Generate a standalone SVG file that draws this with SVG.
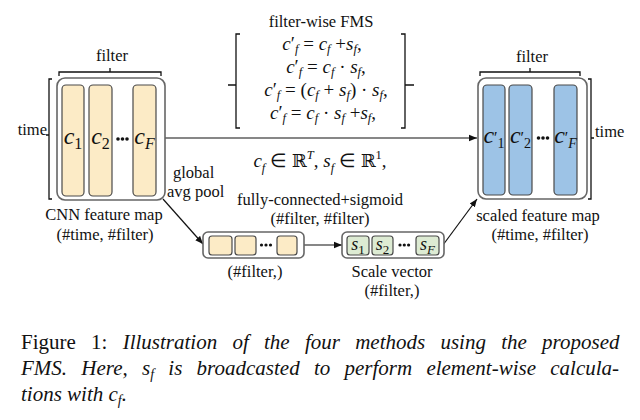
<svg xmlns="http://www.w3.org/2000/svg" width="640" height="420" viewBox="0 0 640 420" font-family="'Liberation Serif', 'Times New Roman', serif">
<style>
.lbl{font-size:16.5px;fill:#111}
.m{font-style:italic;font-size:19px;fill:#111}
.up{font-style:normal}
.sb{font-size:12.5px}
.col{font-style:italic;font-size:24px;fill:#111}
.sq{font-style:italic;font-size:18px;fill:#111}
.outer{fill:#fff;stroke:#666;stroke-width:1.6}
.cream{fill:#FCEBC6;stroke:#4a4a4a;stroke-width:1.2}
.blue{fill:#9DC3E6;stroke:#4a4a4a;stroke-width:1.2}
.green{fill:#DDEBD3;stroke:#4a4a4a;stroke-width:1.2}
.br{fill:none;stroke:#111;stroke-width:1.3}
.ln{fill:none;stroke:#111;stroke-width:1.2}
.cap{font-size:21px;fill:#111}
.dot{fill:#111}
</style>
<defs>
<marker id="ah" markerUnits="userSpaceOnUse" markerWidth="9" markerHeight="8" refX="8" refY="4" orient="auto">
<path d="M0,0.8 L8,4 L0,7.2 z" fill="#111"/>
</marker>
</defs>

<g id="connectors">
<line class="ln" x1="165" y1="138" x2="477" y2="138" marker-end="url(#ah)"/>
<line class="ln" x1="163" y1="199" x2="203" y2="244" marker-end="url(#ah)"/>
<line class="ln" x1="304" y1="245" x2="342" y2="245" marker-end="url(#ah)"/>
<line class="ln" x1="443" y1="245" x2="477" y2="199" marker-end="url(#ah)"/>
</g>

<g id="cnn-feature-map">
<rect class="outer" x="57" y="78" width="108" height="122" rx="8"/>
<rect class="cream" x="62" y="85" width="22" height="111" rx="4"/>
<rect class="cream" x="89" y="85" width="23" height="111" rx="4"/>
<rect class="cream" x="133" y="85" width="23" height="111" rx="4"/>
<circle class="dot" cx="118" cy="139" r="1.8"/><circle class="dot" cx="122.5" cy="139" r="1.8"/><circle class="dot" cx="127" cy="139" r="1.8"/>
<text class="col" x="73" y="144" text-anchor="middle">c<tspan class="up" font-size="16" dy="5">1</tspan></text>
<text class="col" x="100.5" y="144" text-anchor="middle">c<tspan class="up" font-size="16" dy="5">2</tspan></text>
<text class="col" x="144.5" y="144" text-anchor="middle">c<tspan font-size="16" dy="5">F</tspan></text>
<path class="br" d="M59,76 V72 H161 V76 M110,72 V68"/>
<text class="lbl" x="112" y="61" text-anchor="middle">filter</text>
<path class="br" d="M52,79 H49 V199 H52 M49,135 H46"/>
<text class="lbl" x="47" y="135" text-anchor="end">time</text>
<text class="lbl" x="104" y="220" text-anchor="middle">CNN feature map</text>
<text class="lbl" x="105" y="240" text-anchor="middle">(#time, #filter)</text>
</g>

<g id="fms-formulas">
<text class="lbl" x="321" y="27" text-anchor="middle">filter-wise FMS</text>
<path class="br" d="M240,34 H236 V128 H240 M236,85 H228"/>
<path class="br" d="M401,34 H405 V128 H401 M405,85 H414"/>
<text class="m" x="322" y="50" text-anchor="middle">c<tspan class="up">′</tspan><tspan class="sb" dy="3">f</tspan><tspan class="up" dy="-3"> = </tspan>c<tspan class="sb" dy="3">f</tspan><tspan class="up" dy="-3"> +</tspan>s<tspan class="sb" dy="3">f</tspan><tspan class="up" dy="-3">,</tspan></text>
<text class="m" x="326" y="73" text-anchor="middle">c<tspan class="up">′</tspan><tspan class="sb" dy="3">f</tspan><tspan class="up" dy="-3"> = </tspan>c<tspan class="sb" dy="3">f</tspan><tspan class="up" dy="-3"> · </tspan>s<tspan class="sb" dy="3">f</tspan><tspan class="up" dy="-3">,</tspan></text>
<text class="m" x="326" y="96" text-anchor="middle">c<tspan class="up">′</tspan><tspan class="sb" dy="3">f</tspan><tspan class="up" dy="-3"> = (</tspan>c<tspan class="sb" dy="3">f</tspan><tspan class="up" dy="-3"> + </tspan>s<tspan class="sb" dy="3">f</tspan><tspan class="up" dy="-3">) · </tspan>s<tspan class="sb" dy="3">f</tspan><tspan class="up" dy="-3">,</tspan></text>
<text class="m" x="323" y="119" text-anchor="middle">c<tspan class="up">′</tspan><tspan class="sb" dy="3">f</tspan><tspan class="up" dy="-3"> = </tspan>c<tspan class="sb" dy="3">f</tspan><tspan class="up" dy="-3"> · </tspan>s<tspan class="sb" dy="3">f</tspan><tspan class="up" dy="-3"> +</tspan>s<tspan class="sb" dy="3">f</tspan><tspan class="up" dy="-3">,</tspan></text>
<text class="m" x="320" y="167" text-anchor="middle" font-size="20">c<tspan class="sb" font-size="14" dy="5">f</tspan><tspan class="up" dy="-5"> ∈ </tspan><tspan class="up" font-family="'DejaVu Serif', serif" font-size="18">ℝ</tspan><tspan class="sb" font-size="14" dy="-8">T</tspan><tspan class="up" dy="8">, </tspan>s<tspan class="sb" font-size="14" dy="5">f</tspan><tspan class="up" dy="-5"> ∈ </tspan><tspan class="up" font-family="'DejaVu Serif', serif" font-size="18">ℝ</tspan><tspan class="sb up" font-size="14" dy="-8">1</tspan><tspan class="up" dy="8">,</tspan></text>
</g>

<g id="global-avg-pool">
<text class="lbl" x="173" y="178">global</text>
<text class="lbl" x="167" y="197">avg pool</text>
</g>

<g id="pooled-vector">
<rect class="outer" x="203" y="232" width="101" height="26" rx="5"/>
<rect class="cream" x="209" y="236" width="23" height="19" rx="3"/>
<rect class="cream" x="235" y="236" width="21" height="19" rx="3"/>
<rect class="cream" x="277" y="236" width="20" height="19" rx="3"/>
<circle class="dot" cx="261.5" cy="245" r="1.6"/><circle class="dot" cx="266" cy="245" r="1.6"/><circle class="dot" cx="270.5" cy="245" r="1.6"/>
<text class="lbl" x="255" y="277" text-anchor="middle">(#filter,)</text>
</g>

<g id="fc-sigmoid">
<text class="lbl" x="320" y="205" text-anchor="middle">fully-connected+sigmoid</text>
<text class="lbl" x="320" y="224" text-anchor="middle">(#filter, #filter)</text>
</g>

<g id="scale-vector">
<rect class="outer" x="342" y="232" width="102" height="26" rx="5"/>
<rect class="green" x="347" y="236" width="22" height="19" rx="3"/>
<rect class="green" x="372" y="236" width="21" height="19" rx="3"/>
<rect class="green" x="416" y="236" width="23" height="19" rx="3"/>
<circle class="dot" cx="400" cy="245" r="1.6"/><circle class="dot" cx="404.3" cy="245" r="1.6"/><circle class="dot" cx="408.6" cy="245" r="1.6"/>
<text class="sq" x="358" y="250" text-anchor="middle">s<tspan class="up" font-size="13" dy="4">1</tspan></text>
<text class="sq" x="382.5" y="250" text-anchor="middle">s<tspan class="up" font-size="13" dy="4">2</tspan></text>
<text class="sq" x="427.5" y="250" text-anchor="middle">s<tspan font-size="13" dy="4">F</tspan></text>
<text class="lbl" x="392" y="277" text-anchor="middle">Scale vector</text>
<text class="lbl" x="392" y="296" text-anchor="middle">(#filter,)</text>
</g>

<g id="scaled-feature-map">
<rect class="outer" x="478" y="78" width="109" height="121" rx="8"/>
<rect class="blue" x="483" y="85" width="22" height="110" rx="4"/>
<rect class="blue" x="509" y="85" width="23" height="110" rx="4"/>
<rect class="blue" x="554" y="85" width="23" height="110" rx="4"/>
<circle class="dot" cx="538.5" cy="138" r="1.8"/><circle class="dot" cx="543" cy="138" r="1.8"/><circle class="dot" cx="547.5" cy="138" r="1.8"/>
<text class="col" x="494" y="143" text-anchor="middle" font-size="23">c<tspan class="up" font-size="16">′</tspan><tspan class="up" font-size="14" dy="5">1</tspan></text>
<text class="col" x="520.5" y="143" text-anchor="middle" font-size="23">c<tspan class="up" font-size="16">′</tspan><tspan class="up" font-size="14" dy="5">2</tspan></text>
<text class="col" x="565.5" y="143" text-anchor="middle" font-size="23">c<tspan class="up" font-size="16">′</tspan><tspan font-size="14" dy="5">F</tspan></text>
<path class="br" d="M480,76 V72 H580 V76 M530,72 V68"/>
<text class="lbl" x="532" y="62" text-anchor="middle">filter</text>
<path class="br" d="M588,79 H591 V199 H588 M591,138 H594"/>
<text class="lbl" x="595" y="137">time</text>
<text class="lbl" x="538" y="221" text-anchor="middle">scaled feature map</text>
<text class="lbl" x="540" y="240" text-anchor="middle">(#time, #filter)</text>
</g>

<g id="caption">
<text class="cap" x="21" y="349" word-spacing="10">Figure 1: <tspan font-style="italic">Illustration of the four methods using the proposed</tspan></text>
<text class="cap" x="21" y="375" font-style="italic" word-spacing="9">FMS. Here, s<tspan font-size="14" dy="4">f</tspan><tspan dy="-4"> is broadcasted to perform element-wise calcula-</tspan></text>
<text class="cap" x="21" y="401" font-style="italic">tions with c<tspan font-size="14" dy="4">f</tspan><tspan dy="-4">.</tspan></text>
</g>
</svg>
